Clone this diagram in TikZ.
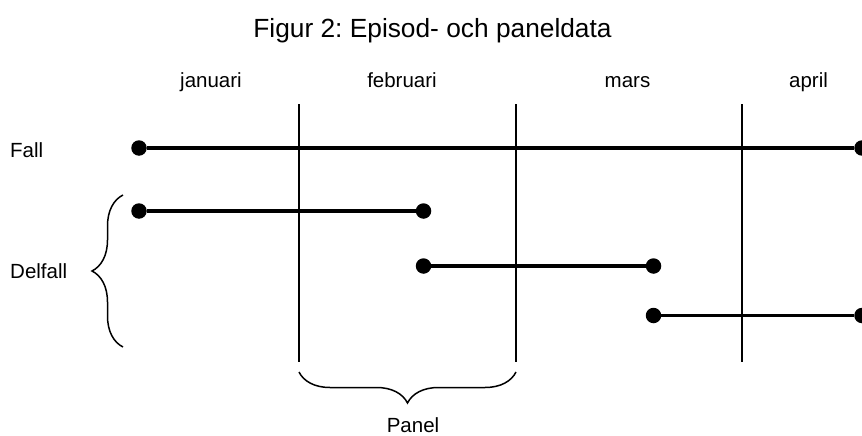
\documentclass[tikz,border=0pt]{standalone}
\usepackage{fontspec}
\setmainfont{Liberation Sans}
\frenchspacing
\usetikzlibrary{backgrounds,decorations.pathreplacing}
\tikzset{
  dot/.style={circle, fill=black, inner sep=0pt, minimum size=15.5pt},
  seg/.style={line width=3.8pt},
  grid/.style={line width=1.6pt},
  brc/.style={line width=1.5pt, decorate, decoration={brace, amplitude=31pt}},
  lbl/.style={font=\fontsize{20.5}{24}\selectfont, inner sep=0pt},
}

\begin{document}
\begin{tikzpicture}[x=1pt, y=-1pt]
\useasboundingbox (0,0) rectangle (862,436);
\def \top {104}
\def \bot {362}
\node[font=\fontsize{26.3}{30}\selectfont, inner sep=0pt, anchor=base] at (432.5, 38) (title) {Figur 2: Episod- och paneldata};
% months
\node[lbl, anchor=base] at (211, 88) (jan) {januari};
\node[lbl, anchor=base] at (402, 88) (feb) {februari};
\node[lbl, anchor=base] at (627.5, 88) (mar) {mars};
\node[lbl, anchor=base] at (808.5, 88) (apr) {april};
% row labels
\node[lbl, anchor=base west] at (10, 157) (fall) {Fall};
\node[lbl, anchor=base west] at (10, 278) (delfall) {Delfall};
\node[lbl, anchor=base] at (413, 432) (panel) {Panel};
% month borders
\coordinate (b1t) at (299, \top);
\coordinate (b1b) at (299, \bot);
\coordinate (b2t) at (516, \top);
\coordinate (b2b) at (516, \bot);
\coordinate (b3t) at (742, \top);
\coordinate (b3b) at (742, \bot);
\begin{scope}[on background layer]
\draw[grid] (b1t) -- (b1b);
\draw[grid] (b2t) -- (b2b);
\draw[grid] (b3t) -- (b3b);
\end{scope}
% episodes
\node[dot] at (139, 148) (f0) {};
\node[dot] at (862, 148) (f1) {};
\draw[seg] (f0) -- (f1);
\node[dot] at (139, 211) (d0) {};
\node[dot] at (423.5, 211) (d1) {};
\draw[seg] (d0) -- (d1);
\node[dot] at (423.5, 266) (d2) {};
\node[dot] at (653.5, 266) (d3) {};
\draw[seg] (d2) -- (d3);
\node[dot] at (653.5, 315.5) (d4) {};
\node[dot] at (862, 315.5) (d5) {};
\draw[seg] (d4) -- (d5);
% braces
\coordinate (lb0) at (123, 347);
\coordinate (lb1) at (123, 195);
\draw[brc] (lb0) -- (lb1);
\coordinate (pb0) at (516, 372);
\coordinate (pb1) at (299, 372);
\draw[brc] (pb0) -- (pb1);
\end{tikzpicture}
\end{document}
